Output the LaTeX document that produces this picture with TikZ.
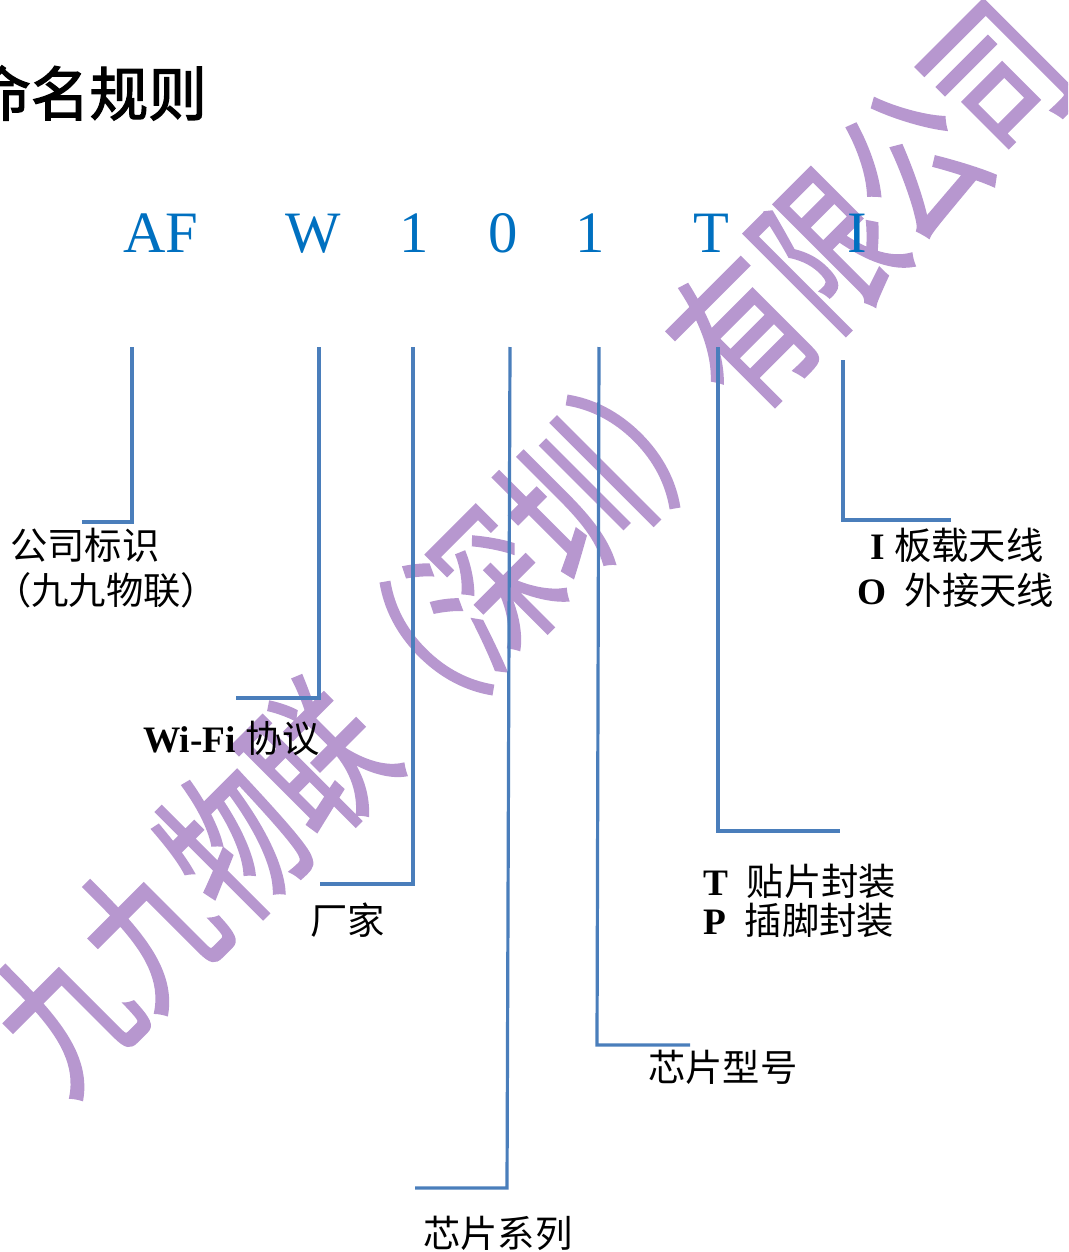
\documentclass[tikz,border=0pt]{standalone}
\usepackage{fontspec}
\setmainfont{Liberation Serif}
\newfontfamily\cjk{Noto Sans CJK SC}
\newfontfamily\wmfont{Noto Sans CJK SC}[FakeBold=1.6]
\newfontfamily\titlefont{Noto Sans CJK SC}[FakeBold=2.2]
\definecolor{wmpurple}{HTML}{B797CF}
\definecolor{leadblue}{HTML}{4A7EBB}
\definecolor{codeblue}{HTML}{0070C0}
\begin{document}
\begin{tikzpicture}[x=0.75pt,y=-0.75pt,
  leader/.style={draw=leadblue, line width=2.4pt},
  code/.style={text=codeblue, font=\fontsize{44pt}{50pt}\selectfont, inner sep=0pt, anchor=base},
  lbl/.style={font=\fontsize{28pt}{33pt}\selectfont, inner sep=0pt, anchor=west},
  wm/.style={text=wmpurple, font=\wmfont\fontsize{90pt}{100pt}\selectfont, inner sep=0pt}]
\useasboundingbox (0,0) rectangle (1068,1252);
\begin{scope}
\clip (0,0) rectangle (1068,1252);
\node[wm, rotate=45, yscale=1.37] (watermark) at (530,545) {九九物联（深圳）有限公司};
\node[inner sep=0pt, anchor=west, font=\titlefont\fontsize{44pt}{50pt}\selectfont] (title) at (-28,93) {命名规则};
\end{scope}

% code letters
\node[code] (cAF) at (161,252) {AF};
\node[code] (cW) at (313,252) {W};
\node[code] (c1) at (414,252) {1};
\node[code] (c0) at (503,252) {0};
\node[code] (c1b) at (590,252) {1};
\node[code] (cT) at (711,252) {T};
\node[code] (cI) at (857,252) {I};

% leader coordinates
\coordinate (a1) at (132,347); \coordinate (a2) at (132,522); \coordinate (a3) at (82,522);
\coordinate (b1) at (319,347); \coordinate (b2) at (319,698); \coordinate (b3) at (236,698);
\coordinate (d1) at (413,347); \coordinate (d2) at (413,884); \coordinate (d3) at (320,884);
\coordinate (e1) at (510,347); \coordinate (e2) at (507,1188); \coordinate (e3) at (415,1188);
\coordinate (f1) at (599,347); \coordinate (f2) at (597,1045); \coordinate (f3) at (690,1045);
\coordinate (g1) at (718,347); \coordinate (g2) at (718,831); \coordinate (g3) at (840,831);
\coordinate (h1) at (843,360); \coordinate (h2) at (843,520); \coordinate (h3) at (951,520);

\draw[leader] (a1) -- (a2) -- (a3);
\draw[leader] (b1) -- (b2) -- (b3);
\draw[leader] (d1) -- (d2) -- (d3);
\draw[leader] (e1) -- (e2) -- (e3);
\draw[leader] (f1) -- (f2) -- (f3);
\draw[leader] (g1) -- (g2) -- (g3);
\draw[leader] (h1) -- (h2) -- (h3);

% labels
\node[lbl] (l1a) at (10,545) {\cjk 公司标识};
\node[lbl] (l1b) at (-6,590) {\cjk （九九物联）};
\node[lbl] (l2) at (143,738) {\bfseries Wi-Fi\hspace{0.25em}{\mdseries\cjk 协议}};
\node[lbl] (l3) at (310,920) {\cjk 厂家};
\node[lbl] (l4) at (423,1233) {\cjk 芯片系列};
\node[lbl] (l5) at (648,1067) {\cjk 芯片型号};
\node[lbl] (l6a) at (703,881) {\bfseries T\hspace{0.5em}{\mdseries\cjk 贴片封装}};
\node[lbl] (l6b) at (703,920) {\bfseries P\hspace{0.5em}{\mdseries\cjk 插脚封装}};
\node[lbl] (l7a) at (870,545) {\bfseries I\hspace{0.25em}{\mdseries\cjk 板载天线}};
\node[lbl] (l7b) at (857,590) {\bfseries O\hspace{0.5em}{\mdseries\cjk 外接天线}};
\end{tikzpicture}
\end{document}
